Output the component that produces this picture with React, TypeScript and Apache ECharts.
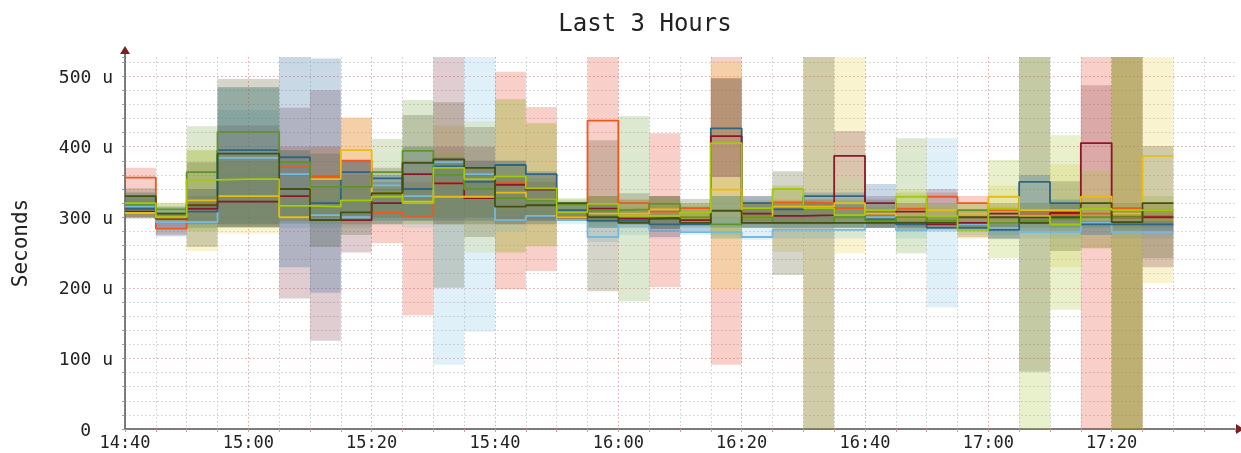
import React, { useEffect, useRef } from "react";
import * as echarts from "echarts";

const TITLE = "Last 3 Hours";
const Y_NAME = "Seconds";
const BIN_MINUTES = 5;
const xTickLabels = ["14:40", "15:00", "15:20", "15:40", "16:00", "16:20", "16:40", "17:00", "17:20"];

// average lines (microseconds), one value per 5-minute bin
const orangeAvg = [356,284,318,330,330,371,357,380,306,302,348,330,350,340,310,437,320,308,313,310,312,321,320,313,305,312,329,320,310,305,303,305,313,302];
const yellowAvg = [306,300,324,330,330,300,354,395,335,322,329,329,335,325,300,305,305,311,300,339,300,315,315,320,305,300,310,305,329,310,310,329,305,387];
const skyAvg = [315,293,293,384,384,361,303,300,345,330,378,361,296,302,296,272,292,282,279,279,272,282,282,282,300,282,290,290,285,279,279,292,279,279];
const maroonAvg = [308,298,312,322,322,330,296,296,320,361,348,327,346,339,300,312,298,299,296,415,305,302,303,387,320,308,290,292,305,300,306,405,300,300];
const limeAvg = [320,300,353,354,354,316,315,324,329,320,370,354,358,341,307,319,302,302,307,405,313,340,313,303,310,329,302,282,312,302,290,312,310,310];
const greenAvg = [318,311,364,421,421,378,343,343,364,394,360,340,327,324,318,310,311,319,300,290,300,292,292,300,295,300,295,310,292,295,298,300,300,310];
const oliveAvg = [330,305,317,390,390,340,296,307,334,377,382,370,315,317,320,300,292,298,292,309,292,292,292,292,292,292,292,300,300,292,300,320,293,320];
const steelAvg = [312,298,308,395,395,385,320,364,355,340,372,350,374,361,310,295,295,290,290,426,320,311,330,330,297,290,285,285,282,350,320,290,290,290];

// band upper and lower limits
const orangeMax = [370,300,340,380,380,400,400,441,350,350,400,380,506,456,315,540,325,419,315,540,318,325,325,318,310,320,335,330,320,310,310,540,540,320];
const orangeMin = [300,275,295,290,290,300,300,290,263,161,300,290,198,224,300,300,300,201,295,91,295,295,295,295,295,295,295,272,295,295,295,0,0,290];
const yellowMax = [320,321,395,390,390,330,400,441,345,400,430,436,467,433,318,320,315,320,315,521,320,340,540,540,320,340,320,320,345,320,375,365,540,540];
const yellowMin = [303,290,252,277,277,295,300,290,300,290,290,250,250,259,295,290,290,285,290,198,290,251,0,249,290,280,290,285,290,290,229,256,0,207];
const skyMax = [325,300,300,452,452,380,325,320,350,340,400,540,310,310,300,310,310,305,290,300,290,295,295,295,310,295,412,295,295,290,290,295,290,290];
const skyMin = [300,278,285,286,286,285,285,285,290,285,91,138,280,290,290,265,275,270,275,270,268,270,270,270,285,270,172,275,275,270,270,275,270,270];
const maroonMax = [330,305,330,430,430,455,480,380,340,380,540,400,360,350,310,330,310,330,300,497,330,320,320,422,330,320,340,310,310,310,320,487,310,310];
const maroonMin = [300,285,295,286,286,185,125,250,300,300,290,300,290,295,295,295,290,272,290,357,290,290,290,357,285,285,285,285,285,290,290,368,290,229];
const limeMax = [335,315,395,380,380,335,340,345,345,340,390,375,375,355,325,330,325,325,320,357,325,345,325,325,315,335,315,295,381,540,416,330,540,330];
const limeMin = [305,295,280,290,290,300,300,300,300,300,300,300,300,300,298,295,295,295,295,275,295,290,290,290,290,290,290,270,242,0,169,295,0,290];
const greenMax = [330,320,429,484,484,395,360,360,411,466,380,360,467,433,327,330,443,330,320,330,310,320,320,320,310,412,320,320,320,320,320,320,320,320];
const greenMin = [300,296,285,286,286,295,290,290,290,290,290,290,250,259,295,285,181,285,285,270,285,285,285,285,285,249,285,285,285,285,285,285,285,285];
const oliveMax = [341,308,378,496,496,395,390,380,370,445,463,428,380,360,322,409,334,330,326,497,322,365,540,357,325,300,300,300,300,540,351,368,540,401];
const oliveMin = [298,298,258,285,285,291,258,275,290,295,200,272,290,290,295,195,290,280,290,357,285,218,0,285,285,285,285,285,269,81,252,256,0,242];
const steelMax = [335,315,340,484,484,540,525,380,360,400,385,380,380,365,320,320,300,300,295,330,330,315,335,335,347,295,290,290,290,360,325,295,295,295];
const steelMin = [305,273,290,290,290,229,193,295,295,295,295,295,295,295,298,285,285,280,280,285,285,285,285,285,285,280,280,280,270,280,280,275,280,280];

const bandList = [
  { name: "orange", hi: orangeMax, lo: orangeMin, color: "rgba(231,63,39,0.25)" },
  { name: "yellow", hi: yellowMax, lo: yellowMin, color: "rgba(231,207,67,0.25)" },
  { name: "sky", hi: skyMax, lo: skyMin, color: "rgba(131,195,227,0.25)" },
  { name: "maroon", hi: maroonMax, lo: maroonMin, color: "rgba(131,55,71,0.25)" },
  { name: "lime", hi: limeMax, lo: limeMin, color: "rgba(163,195,51,0.25)" },
  { name: "green", hi: greenMax, lo: greenMin, color: "rgba(115,163,67,0.25)" },
  { name: "olive", hi: oliveMax, lo: oliveMin, color: "rgba(87,87,43,0.25)" },
  { name: "steel", hi: steelMax, lo: steelMin, color: "rgba(35,99,151,0.25)" },
];

const lineList = [
  { name: "orange avg", values: orangeAvg, color: "#f0581c" },
  { name: "sky avg", values: skyAvg, color: "#78b8dc" },
  { name: "steel avg", values: steelAvg, color: "#2f6580" },
  { name: "maroon avg", values: maroonAvg, color: "#8a1828" },
  { name: "yellow avg", values: yellowAvg, color: "#e8bc10" },
  { name: "green avg", values: greenAvg, color: "#5f9428" },
  { name: "olive avg", values: oliveAvg, color: "#435010" },
  { name: "lime avg", values: limeAvg, color: "#a4c80c" },
];

const FONT = "'DejaVu Sans Mono', monospace";

export default function App() {
  const ref = useRef<HTMLDivElement>(null);
  useEffect(() => {
    const chart = echarts.init(ref.current!, undefined, { renderer: "svg" });
    const bandSeries = bandList.map((b) => ({
      type: "custom",
      name: b.name,
      clip: true,
      silent: true,
      encode: { x: [0, 1], y: [2, 3] },
      data: b.hi.map((h, i) => [i * BIN_MINUTES, (i + 1) * BIN_MINUTES, b.lo[i], h]),
      renderItem: (_: any, api: any) => {
        const p0 = api.coord([api.value(0), api.value(3)]);
        const p1 = api.coord([api.value(1), api.value(2)]);
        return {
          type: "rect",
          shape: { x: p0[0], y: p0[1], width: p1[0] - p0[0], height: p1[1] - p0[1] },
          style: { fill: b.color },
        };
      },
    }));
    const lineSeries = lineList.map((l) => ({
      type: "line",
      name: l.name,
      step: "end",
      showSymbol: false,
      symbol: "none",
      silent: true,
      clip: true,
      lineStyle: { color: l.color, width: 1.8 },
      data: [...l.values, l.values[l.values.length - 1]].map((v, i) => [i * BIN_MINUTES, v]),
    }));
    chart.setOption({
      animation: false,
      backgroundColor: "#ffffff",
      title: {
        text: TITLE,
        left: 640,
        top: 6,
        textAlign: "center",
        textStyle: { fontFamily: FONT, fontSize: 24, fontWeight: "normal", color: "#222" },
      },
      grid: { left: 125, right: 6, top: 57, bottom: 24, containLabel: false, outerBoundsMode: "none" },
      xAxis: {
        type: "value",
        min: 0,
        max: 180,
        interval: BIN_MINUTES,
        axisLine: { show: true, onZero: false, lineStyle: { color: "#555", width: 1.5 } },
        axisTick: { show: true, length: 3, lineStyle: { color: "#d98" } },
        axisLabel: {
          show: true,
          margin: 6,
          hideOverlap: false,
          fontFamily: FONT,
          fontSize: 17,
          lineHeight: 14,
          color: "#222",
          formatter: (v: number) => (v % 20 === 0 ? xTickLabels[v / 20] ?? "" : ""),
        },
        splitLine: {
          show: true,
          showMaxLine: false,
          lineStyle: { color: ["#f0a0a0", "#cccccc", "#cccccc", "#cccccc"], type: [1.5, 2.5], width: 1 },
        },
      },
      yAxis: {
        type: "value",
        min: 0,
        max: 527,
        interval: 20,
        name: Y_NAME,
        nameLocation: "middle",
        nameRotate: 90,
        nameGap: 95,
        nameTextStyle: { fontFamily: FONT, fontSize: 21, color: "#222" },
        axisLine: { show: true, onZero: false, lineStyle: { color: "#555", width: 1.5 } },
        axisTick: { show: true, length: 3, lineStyle: { color: "#999" } },
        axisLabel: {
          show: true,
          margin: 12,
          fontFamily: FONT,
          fontSize: 18,
          color: "#222",
          rich: { zero: { fontFamily: FONT, fontSize: 18, color: "#222", padding: [0, 22, 0, 0] } },
          formatter: (v: number) => (v === 0 ? "{zero|0}" : v % 100 === 0 ? `${v} u` : ""),
        },
        splitLine: {
          show: true,
          showMaxLine: false,
          lineStyle: { color: ["#f0a0a0", "#cccccc", "#cccccc", "#cccccc", "#cccccc"], type: [1.5, 2.5], width: 1 },
        },
      },
      graphic: [
        { type: "line", shape: { x1: 125, y1: 57, x2: 125, y2: 48 }, style: { stroke: "#555", lineWidth: 1.5 } },
        { type: "polygon", shape: { points: [[120, 54], [130, 54], [125, 46]] }, style: { fill: "#7b2020" } },
        { type: "polygon", shape: { points: [[1236, 424], [1236, 434], [1244, 429]] }, style: { fill: "#7b2020" } },
      ],
      series: [...bandSeries, ...lineSeries],
    });
    return () => chart.dispose();
  }, []);
  return <div ref={ref} style={{ position: "absolute", left: 0, top: 0, width: 1241, height: 453, filter: "blur(0.5px)" }} />;
}
